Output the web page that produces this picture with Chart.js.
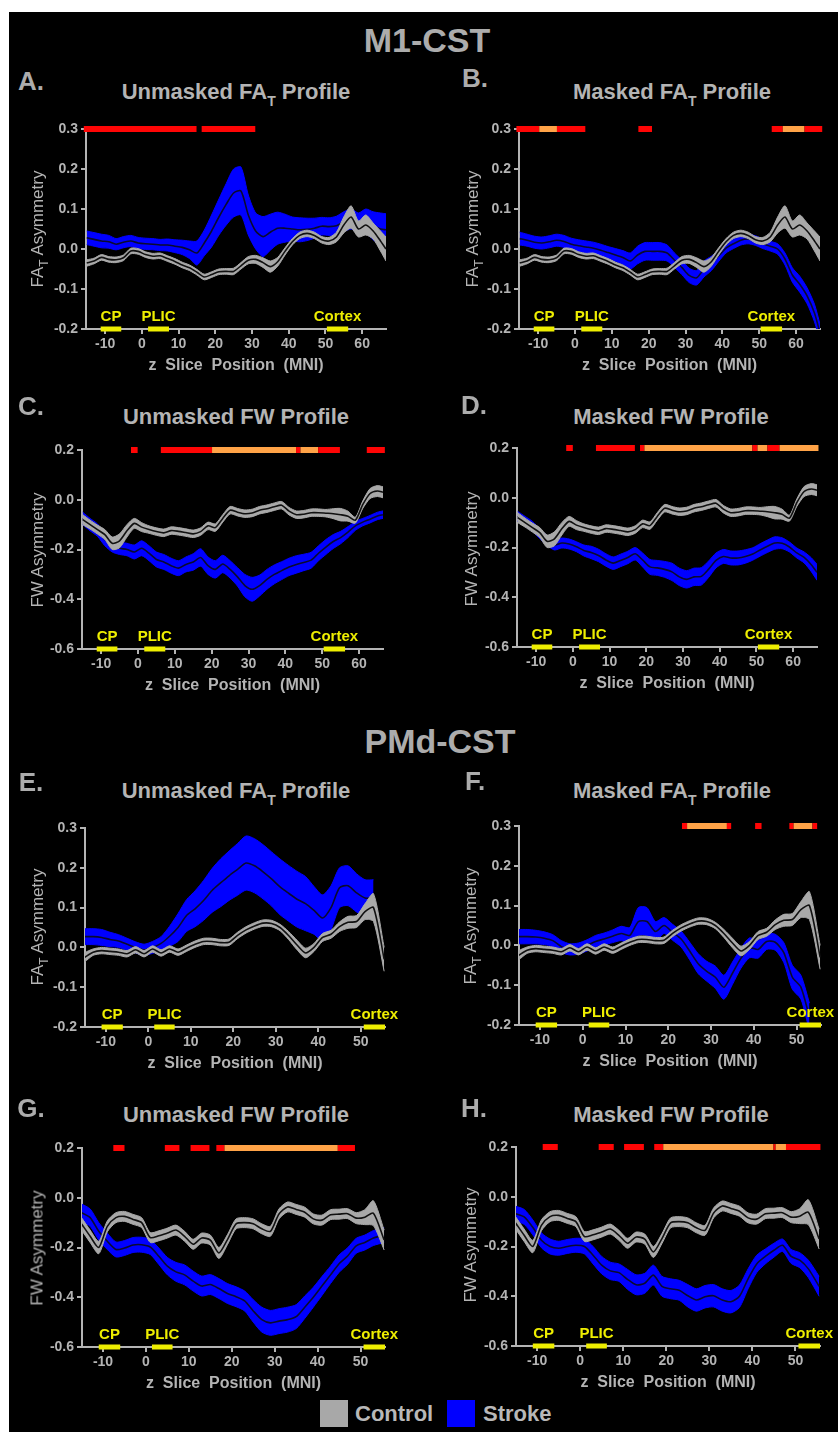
<!DOCTYPE html>
<html>
<head>
<meta charset="utf-8">
<script src="https://cdn.jsdelivr.net/npm/chart.js@4.4.1/dist/chart.umd.min.js"></script>
<style>
  html, body { margin: 0; padding: 0; background: #fff; }
  #page { position: relative; width: 838px; height: 1432px; overflow: hidden; background: #fff;
          font-family: "Liberation Sans", Arial, sans-serif; }
  #ink { position: absolute; left: 9px; top: 12px; right: 0; bottom: 0; background: #000; }
  .t { position: absolute; transform: translate(-50%, -50%); white-space: nowrap; line-height: 1;
       color: #b4b4b4; font-weight: bold; }
  .tl { position: absolute; transform: translate(0, -50%); white-space: nowrap; line-height: 1;
        color: #b8b8b8; font-weight: bold; }
  .yt { position: absolute; transform: translate(-50%, -50%) rotate(-90deg); white-space: nowrap;
        line-height: 1; color: #b4b4b4; font-size: 17px; }
  .s1 { font-size: 14px; position: relative; top: 7px; }
  .s2 { font-size: 12px; position: relative; top: 5px; }
  canvas { position: absolute; }
  .sw { position: absolute; width: 28px; height: 27px; }
</style>
</head>
<body>
<div id="page"><div id="ink"></div></div>
<script>
// ---------- slice positions and tick labels ----------
const xM1 = [-15,-13,-11,-9,-7,-5,-3,-1,1,3,5,7,9,11,13,15,17,19,21,23,25,27,29,31,33,35,37,39,41,43,45,47,49,51,53,55,57,59,61,63,65,66.5];
const xPMd = [-15,-13,-11,-9,-7,-5,-3,-1,1,3,5,7,9,11,13,15,17,19,21,23,25,27,29,31,33,35,37,39,41,43,45,47,49,51,53,55.5];
const xTicksM1 = [-10,0,10,20,30,40,50,60];
const xTicksPMd = [-10,0,10,20,30,40,50];
const yTicksFA = [-0.2,-0.1,0,0.1,0.2,0.3];
const yTicksFW = [-0.6,-0.4,-0.2,0,0.2];

// ---------- M1-CST: unmasked FA_T ----------
const strokeMeanA = [0.028,0.024,0.020,0.018,0.012,0.017,0.020,0.015,0.013,0.012,
  0.010,0.010,0.007,0.004,-0.002,-0.010,0.015,0.045,0.080,0.112,
  0.140,0.145,0.085,0.045,0.031,0.042,0.052,0.052,0.050,0.048,
  0.049,0.052,0.057,0.056,0.058,0.068,0.075,0.065,0.070,0.058,
  0.050,0.048];
const strokeSemA = [0.017,0.017,0.017,0.016,0.014,0.014,0.014,0.014,0.014,0.014,
  0.014,0.015,0.016,0.018,0.022,0.030,0.032,0.040,0.045,0.052,
  0.060,0.060,0.050,0.045,0.050,0.045,0.040,0.035,0.030,0.030,
  0.028,0.025,0.022,0.022,0.024,0.025,0.025,0.025,0.030,0.035,
  0.040,0.040];
const controlMeanA = [-0.035,-0.030,-0.021,-0.026,-0.027,-0.022,-0.005,-0.006,-0.014,-0.018,
  -0.017,-0.024,-0.031,-0.040,-0.047,-0.058,-0.070,-0.064,-0.057,-0.056,
  -0.056,-0.042,-0.028,-0.026,-0.034,-0.044,-0.032,-0.006,0.018,0.034,
  0.039,0.034,0.023,0.020,0.030,0.060,0.080,0.050,0.060,0.045,
  0.020,0.000];
const controlSemA = [0.008,0.007,0.007,0.007,0.007,0.007,0.007,0.007,0.007,0.007,
  0.007,0.007,0.007,0.007,0.007,0.007,0.007,0.007,0.007,0.007,
  0.008,0.008,0.009,0.010,0.012,0.014,0.011,0.009,0.008,0.008,
  0.008,0.008,0.008,0.009,0.012,0.020,0.028,0.020,0.025,0.020,
  0.025,0.030];

// ---------- M1-CST: masked FA_T ----------
const strokeMeanB = [0.026,0.022,0.017,0.015,0.018,0.022,0.019,0.012,0.008,0.005,
  0.002,-0.003,-0.009,-0.015,-0.021,-0.030,-0.015,-0.006,-0.006,-0.006,
  -0.010,-0.028,-0.046,-0.066,-0.072,-0.050,-0.036,-0.017,0.002,0.013,
  0.022,0.025,0.021,0.013,0.007,0.000,-0.025,-0.065,-0.088,-0.117,
  -0.160,-0.210];
const strokeSemB = [0.016,0.015,0.015,0.015,0.015,0.015,0.015,0.015,0.015,0.015,
  0.015,0.015,0.015,0.016,0.017,0.020,0.022,0.022,0.022,0.022,
  0.020,0.018,0.018,0.018,0.018,0.020,0.018,0.014,0.012,0.012,
  0.012,0.012,0.012,0.012,0.012,0.013,0.015,0.018,0.020,0.020,
  0.022,0.022];
const controlMeanB = [-0.035,-0.030,-0.021,-0.026,-0.027,-0.022,-0.005,-0.006,-0.014,-0.018,
  -0.017,-0.024,-0.031,-0.040,-0.047,-0.058,-0.070,-0.064,-0.057,-0.056,
  -0.056,-0.042,-0.028,-0.026,-0.034,-0.044,-0.032,-0.006,0.018,0.034,
  0.039,0.034,0.023,0.020,0.030,0.060,0.080,0.050,0.060,0.045,
  0.020,0.000];
const controlSemB = [0.008,0.007,0.007,0.007,0.007,0.007,0.007,0.007,0.007,0.007,
  0.007,0.007,0.007,0.007,0.007,0.007,0.007,0.007,0.007,0.007,
  0.008,0.008,0.009,0.010,0.012,0.014,0.011,0.009,0.008,0.008,
  0.008,0.008,0.008,0.009,0.012,0.020,0.028,0.020,0.025,0.020,
  0.025,0.030];

// ---------- M1-CST: unmasked FW ----------
const strokeMeanC = [-0.075,-0.100,-0.122,-0.160,-0.185,-0.195,-0.200,-0.210,-0.195,-0.215,
  -0.240,-0.250,-0.265,-0.275,-0.260,-0.250,-0.232,-0.265,-0.280,-0.258,
  -0.280,-0.310,-0.345,-0.360,-0.345,-0.320,-0.300,-0.285,-0.270,-0.260,
  -0.252,-0.243,-0.215,-0.190,-0.168,-0.152,-0.130,-0.105,-0.090,-0.078,
  -0.065,-0.060];
const strokeSemC = [0.025,0.025,0.025,0.025,0.025,0.025,0.025,0.028,0.030,0.030,
  0.030,0.030,0.030,0.030,0.030,0.033,0.035,0.035,0.035,0.035,
  0.035,0.037,0.045,0.048,0.042,0.040,0.038,0.036,0.035,0.035,
  0.033,0.032,0.030,0.030,0.028,0.025,0.022,0.018,0.015,0.015,
  0.015,0.015];
const controlMeanC = [-0.080,-0.100,-0.120,-0.140,-0.175,-0.165,-0.125,-0.095,-0.110,-0.120,
  -0.128,-0.133,-0.124,-0.127,-0.132,-0.137,-0.128,-0.105,-0.112,-0.075,
  -0.042,-0.050,-0.056,-0.053,-0.042,-0.036,-0.028,-0.022,-0.046,-0.060,
  -0.058,-0.052,-0.052,-0.054,-0.056,-0.060,-0.066,-0.082,-0.020,0.025,
  0.035,0.030];
const controlSemC = [0.020,0.018,0.018,0.020,0.025,0.028,0.025,0.020,0.018,0.015,
  0.015,0.015,0.015,0.015,0.015,0.015,0.015,0.015,0.015,0.015,
  0.015,0.015,0.015,0.015,0.015,0.015,0.015,0.015,0.015,0.015,
  0.015,0.015,0.015,0.015,0.020,0.025,0.020,0.012,0.015,0.020,
  0.022,0.022];

// ---------- M1-CST: masked FW ----------
const strokeMeanD = [-0.075,-0.095,-0.115,-0.145,-0.172,-0.190,-0.182,-0.186,-0.197,-0.212,
  -0.220,-0.232,-0.250,-0.263,-0.252,-0.240,-0.225,-0.250,-0.278,-0.282,
  -0.288,-0.298,-0.318,-0.328,-0.318,-0.316,-0.287,-0.252,-0.236,-0.242,
  -0.242,-0.236,-0.226,-0.210,-0.195,-0.182,-0.183,-0.198,-0.222,-0.240,
  -0.270,-0.300];
const strokeSemD = [0.020,0.020,0.020,0.020,0.020,0.020,0.020,0.020,0.020,0.022,
  0.025,0.025,0.025,0.025,0.025,0.025,0.025,0.028,0.030,0.030,
  0.032,0.035,0.035,0.035,0.035,0.035,0.033,0.030,0.028,0.028,
  0.028,0.027,0.025,0.025,0.025,0.025,0.022,0.020,0.020,0.022,
  0.028,0.032];
const controlMeanD = [-0.080,-0.100,-0.120,-0.140,-0.175,-0.165,-0.125,-0.095,-0.110,-0.120,
  -0.128,-0.133,-0.124,-0.127,-0.132,-0.137,-0.128,-0.105,-0.112,-0.075,
  -0.042,-0.050,-0.056,-0.053,-0.042,-0.036,-0.028,-0.022,-0.046,-0.060,
  -0.058,-0.052,-0.052,-0.054,-0.056,-0.060,-0.066,-0.082,-0.020,0.025,
  0.035,0.030];
const controlSemD = [0.020,0.018,0.018,0.020,0.025,0.028,0.025,0.020,0.018,0.015,
  0.015,0.015,0.015,0.015,0.015,0.015,0.015,0.015,0.015,0.015,
  0.015,0.015,0.015,0.015,0.015,0.015,0.015,0.015,0.015,0.015,
  0.015,0.015,0.015,0.015,0.020,0.025,0.020,0.012,0.015,0.020,
  0.022,0.022];

// ---------- PMd-CST: unmasked FA_T ----------
const strokeMeanE = [0.027,0.027,0.025,0.020,0.016,0.008,0.000,-0.006,0.000,0.010,
  0.028,0.050,0.080,0.097,0.118,0.143,0.162,0.180,0.196,0.212,
  0.205,0.190,0.172,0.152,0.136,0.121,0.110,0.093,0.074,0.100,
  0.150,0.155,0.137,0.124,0.125,null];
const strokeSemE = [0.020,0.020,0.020,0.018,0.016,0.015,0.014,0.014,0.015,0.017,
  0.025,0.035,0.040,0.045,0.050,0.055,0.060,0.062,0.065,0.068,
  0.068,0.068,0.068,0.070,0.070,0.070,0.068,0.060,0.058,0.055,
  0.050,0.050,0.048,0.046,0.045,null];
const controlMeanE = [-0.025,-0.012,-0.008,-0.010,-0.012,-0.016,-0.006,-0.016,-0.004,-0.014,
  -0.004,-0.012,-0.002,0.008,0.015,0.015,0.012,0.013,0.030,0.044,
  0.054,0.061,0.060,0.050,0.030,0.006,-0.014,0.000,0.025,0.033,
  0.052,0.063,0.065,0.090,0.100,-0.030];
const controlSemE = [0.012,0.008,0.008,0.008,0.008,0.008,0.008,0.008,0.008,0.008,
  0.008,0.008,0.008,0.008,0.008,0.008,0.008,0.008,0.008,0.008,
  0.008,0.008,0.008,0.008,0.010,0.012,0.012,0.010,0.010,0.010,
  0.012,0.015,0.015,0.020,0.035,0.030];

// ---------- PMd-CST: masked FA_T ----------
const strokeMeanF = [0.022,0.022,0.021,0.018,0.012,-0.003,-0.010,-0.008,0.000,0.010,
  0.016,0.023,0.030,0.025,0.060,0.060,0.035,0.050,0.033,0.016,
  -0.014,-0.046,-0.065,-0.080,-0.105,-0.070,-0.032,-0.006,-0.010,0.010,
  0.008,-0.018,-0.080,-0.105,-0.180,null];
const strokeSemF = [0.018,0.018,0.017,0.016,0.015,0.015,0.014,0.014,0.014,0.015,
  0.015,0.016,0.018,0.020,0.035,0.035,0.025,0.020,0.020,0.020,
  0.022,0.025,0.025,0.028,0.030,0.028,0.025,0.025,0.022,0.020,
  0.020,0.025,0.030,0.030,0.035,null];
const controlMeanF = [-0.025,-0.012,-0.008,-0.010,-0.012,-0.016,-0.006,-0.016,-0.004,-0.014,
  -0.004,-0.012,-0.002,0.008,0.015,0.015,0.012,0.013,0.030,0.044,
  0.054,0.061,0.060,0.050,0.030,0.006,-0.014,0.000,0.025,0.033,
  0.052,0.063,0.065,0.090,0.100,-0.030];
const controlSemF = [0.012,0.008,0.008,0.008,0.008,0.008,0.008,0.008,0.008,0.008,
  0.008,0.008,0.008,0.008,0.008,0.008,0.008,0.008,0.008,0.008,
  0.008,0.008,0.008,0.008,0.010,0.012,0.012,0.010,0.010,0.010,
  0.012,0.015,0.015,0.020,0.035,0.030];

// ---------- PMd-CST: unmasked FW ----------
const strokeMeanG = [-0.060,-0.080,-0.135,-0.175,-0.208,-0.202,-0.190,-0.189,-0.198,-0.235,
  -0.275,-0.298,-0.310,-0.335,-0.355,-0.349,-0.365,-0.385,-0.398,-0.415,
  -0.455,-0.490,-0.503,-0.496,-0.490,-0.478,-0.440,-0.400,-0.355,-0.310,
  -0.265,-0.234,-0.193,-0.180,-0.162,-0.150];
const strokeSemG = [0.035,0.035,0.035,0.033,0.030,0.030,0.030,0.030,0.030,0.033,
  0.035,0.038,0.040,0.040,0.040,0.040,0.040,0.040,0.040,0.040,
  0.045,0.050,0.050,0.050,0.050,0.048,0.045,0.040,0.038,0.035,
  0.035,0.033,0.030,0.030,0.030,0.030];
const controlMeanG = [-0.105,-0.155,-0.200,-0.115,-0.080,-0.075,-0.087,-0.100,-0.160,-0.153,
  -0.142,-0.130,-0.155,-0.187,-0.162,-0.170,-0.222,-0.168,-0.105,-0.100,
  -0.105,-0.125,-0.135,-0.065,-0.037,-0.047,-0.058,-0.085,-0.090,-0.068,
  -0.066,-0.064,-0.082,-0.078,-0.062,-0.170];
const controlSemG = [0.025,0.025,0.025,0.022,0.020,0.020,0.020,0.020,0.020,0.020,
  0.020,0.020,0.020,0.020,0.020,0.020,0.022,0.020,0.020,0.020,
  0.020,0.020,0.020,0.020,0.020,0.020,0.020,0.020,0.020,0.020,
  0.020,0.020,0.022,0.030,0.050,0.040];

// ---------- PMd-CST: masked FW ----------
const strokeMeanH = [-0.068,-0.081,-0.123,-0.175,-0.200,-0.207,-0.200,-0.195,-0.200,-0.235,
  -0.275,-0.298,-0.305,-0.332,-0.354,-0.348,-0.315,-0.360,-0.370,-0.376,
  -0.398,-0.415,-0.402,-0.398,-0.415,-0.422,-0.400,-0.330,-0.270,-0.240,
  -0.215,-0.195,-0.240,-0.255,-0.290,-0.360];
const strokeSemH = [0.030,0.030,0.030,0.030,0.030,0.028,0.028,0.028,0.030,0.035,
  0.035,0.035,0.035,0.040,0.040,0.040,0.040,0.040,0.040,0.040,
  0.045,0.045,0.045,0.045,0.045,0.045,0.045,0.040,0.035,0.030,
  0.028,0.025,0.028,0.030,0.035,0.040];
const controlMeanH = [-0.105,-0.155,-0.200,-0.115,-0.080,-0.075,-0.087,-0.100,-0.160,-0.153,
  -0.142,-0.130,-0.155,-0.187,-0.162,-0.170,-0.222,-0.168,-0.105,-0.100,
  -0.105,-0.125,-0.135,-0.065,-0.037,-0.047,-0.058,-0.085,-0.090,-0.068,
  -0.066,-0.064,-0.082,-0.078,-0.062,-0.170];
const controlSemH = [0.025,0.025,0.025,0.022,0.020,0.020,0.020,0.020,0.020,0.020,
  0.020,0.020,0.020,0.020,0.020,0.020,0.022,0.020,0.020,0.020,
  0.020,0.020,0.020,0.020,0.020,0.020,0.020,0.020,0.020,0.020,
  0.020,0.020,0.022,0.030,0.050,0.040];

// ---------- significant slice runs: [from, to, tier] (tier 1 red, tier 2 orange) ----------
const sigA = [[-15.8,14.9,1],[16.3,30.9,1]];
const sigB = [[-15.9,-9.7,1],[-9.7,-4.9,2],[-4.9,2.8,1],[17.2,20.9,1],[53.4,56.4,1],[56.4,62.3,2],[62.3,67.1,1]];
const sigC = [[-1.9,-0.1,1],[6.2,20.1,1],[20.1,42.9,2],[42.9,44.1,1],[44.1,48.9,2],[48.9,54.8,1],[62.1,67.0,1]];
const sigD = [[-1.8,0.0,1],[6.3,16.9,1],[18.3,19.5,1],[19.5,48.9,2],[48.9,50.3,1],[50.3,53.0,2],[53.0,56.3,1],[56.3,66.9,2]];
const sigE = [];
const sigF = [[23.2,24.4,1],[24.4,33.7,2],[33.7,34.7,1],[40.3,41.8,1],[48.3,49.3,1],[49.3,53.7,2],[53.7,54.8,1]];
const sigG = [[-7.6,-5.0,1],[4.4,7.8,1],[10.4,14.8,1],[16.4,18.3,1],[18.3,44.7,2],[44.7,48.7,1]];
const sigH = [[-8.7,-5.2,1],[4.3,7.8,1],[10.2,14.8,1],[17.2,19.3,1],[19.3,44.9,2],[44.9,45.4,1],[45.4,47.8,2],[47.8,55.8,1]];

// ---------- anatomical landmarks along z ----------
const regionNames = ['CP','PLIC','Cortex'];
const regionsM1 = [[-11.2,-5.6],[1.7,7.4],[50.4,56.2]];
const regionsPMd = [[-11.0,-6.0],[1.4,6.2],[50.7,55.7]];

// ---------- styling ----------
const FONT = '"Liberation Sans", Arial, sans-serif';
const AXIS = '#b4b4b4';
const BLUE = '#0000ff';
const BAND_GREY = '#a9a9a9';
const RED = '#ff0505';
const ORANGE = '#ffa347';
const YELLOW = '#eeee00';
Chart.defaults.font.family = FONT;

const page = document.getElementById('page');

function text(cls, html, x, y, size, extra) {
  const d = document.createElement('div');
  d.className = cls;
  d.innerHTML = html;
  d.style.left = x + 'px';
  d.style.top = y + 'px';
  if (size) d.style.fontSize = size + 'px';
  if (extra) Object.assign(d.style, extra);
  page.appendChild(d);
  return d;
}

// significance runs and landmark bars, drawn on the chart's own scales
const marksPlugin = {
  id: 'marks',
  afterDatasetsDraw(chart, args, opts) {
    const { ctx, scales: { x, y } } = chart;
    ctx.save();
    const yTop = y.getPixelForValue(y.max);
    for (const [a, b, tier] of opts.sig) {
      const x0 = x.getPixelForValue(a), x1 = x.getPixelForValue(b);
      ctx.fillStyle = tier === 2 ? ORANGE : RED;
      ctx.fillRect(x0, yTop - 3, x1 - x0, 6);
    }
    const yBot = y.getPixelForValue(y.min);
    ctx.font = 'bold 15px ' + FONT;
    ctx.textAlign = 'center';
    ctx.textBaseline = 'alphabetic';
    opts.regions.forEach(([a, b], i) => {
      const x0 = x.getPixelForValue(a), x1 = x.getPixelForValue(b);
      ctx.fillStyle = YELLOW;
      ctx.fillRect(x0, yBot - 2.5, x1 - x0, 5);
      ctx.fillText(regionNames[i], (x0 + x1) / 2, yBot - 8);
    });
    ctx.restore();
  }
};

const pts = (xs, m, s, k) => xs.map((x, i) => ({
  x, y: (m[i] == null) ? null : m[i] + k * (s ? s[i] : 0)
}));

function panel(p) {
  const YW = 50, PT = 12, PR = 14, XH = 50;
  const W = YW + p.w + PR, H = PT + p.h + XH;
  const cv = document.createElement('canvas');
  cv.width = W; cv.height = H;
  cv.style.width = W + 'px'; cv.style.height = H + 'px';
  cv.style.left = (p.left - YW) + 'px';
  cv.style.top = (p.top - PT) + 'px';
  page.appendChild(cv);

  const common = { pointRadius: 0, tension: 0.25, spanGaps: false };
  const tickFont = { family: FONT, size: 14, weight: 'bold' };

  new Chart(cv, {
    type: 'line',
    data: {
      datasets: [
        { ...common, label: 'Stroke lower', data: pts(p.xs, p.sm, p.ss, -1), borderColor: BLUE, backgroundColor: BLUE, borderWidth: 1, fill: false, order: 6 },
        { ...common, label: 'Stroke upper', data: pts(p.xs, p.sm, p.ss, 1), borderColor: BLUE, backgroundColor: BLUE, borderWidth: 1, fill: '-1', order: 5 },
        { ...common, label: 'Stroke', data: pts(p.xs, p.sm, null, 0), borderColor: '#0a0a30', borderWidth: 1.6, fill: false, order: 4 },
        { ...common, label: 'Control lower', data: pts(p.xs, p.cm, p.cs, -1), borderColor: BAND_GREY, backgroundColor: BAND_GREY, borderWidth: 1, fill: false, order: 3 },
        { ...common, label: 'Control upper', data: pts(p.xs, p.cm, p.cs, 1), borderColor: BAND_GREY, backgroundColor: BAND_GREY, borderWidth: 1, fill: '-1', order: 2 },
        { ...common, label: 'Control', data: pts(p.xs, p.cm, null, 0), borderColor: '#111111', borderWidth: 1.6, fill: false, order: 1 }
      ]
    },
    options: {
      responsive: false,
      animation: false,
      layout: { padding: { top: PT, right: PR, left: 0, bottom: 0 } },
      plugins: {
        legend: { display: false },
        tooltip: { enabled: false },
        marks: { sig: p.sig, regions: p.regions }
      },
      scales: {
        x: {
          type: 'linear', min: p.xmin, max: p.xmax,
          afterBuildTicks: s => { s.ticks = p.xticks.map(v => ({ value: v })); },
          afterFit: s => { s.height = XH; },
          grid: { display: true, drawOnChartArea: false, drawTicks: true, tickLength: 5, color: AXIS, lineWidth: 2 },
          border: { display: true, color: AXIS, width: 2 },
          ticks: { color: AXIS, font: tickFont, padding: 2, maxRotation: 0, autoSkip: false },
          title: { display: true, text: 'z  Slice  Position  (MNI)', color: AXIS,
                   font: { family: FONT, size: 16, weight: 'bold' }, padding: { top: 0, bottom: 4 } }
        },
        y: {
          type: 'linear', min: p.ymin, max: p.ymax,
          afterBuildTicks: s => { s.ticks = p.yticks.map(v => ({ value: v })); },
          afterFit: s => { s.width = YW; },
          grid: { display: true, drawOnChartArea: false, drawTicks: true, tickLength: 5, color: AXIS, lineWidth: 2 },
          border: { display: true, color: AXIS, width: 2 },
          ticks: { color: AXIS, font: tickFont, padding: 3, callback: v => Number(v).toFixed(1) }
        }
      }
    },
    plugins: [marksPlugin]
  });
}

// ---------- panels ----------
const FA = { ymin: -0.2, ymax: 0.3, yticks: yTicksFA };
const FW = { ymin: -0.6, ymax: 0.2, yticks: yTicksFW };
const M1 = { xs: xM1, xmin: -15.2, xmax: 66.5, xticks: xTicksM1, regions: regionsM1 };
const PMd = { xs: xPMd, xmin: -14.9, xmax: 55.7, xticks: xTicksPMd, regions: regionsPMd };

const panels = [
  { ...M1, ...FA, left: 86, top: 129, w: 300, h: 200, sm: strokeMeanA, ss: strokeSemA, cm: controlMeanA, cs: controlSemA, sig: sigA,
    letter: ['A.', 31, 81], title: ['Unmasked FA<span class="s1">T</span> Profile', 236, 92], ytitle: ['FA<span class="s2">T</span> Asymmetry', 37, 229] },
  { ...M1, ...FA, left: 519, top: 129, w: 301, h: 200, sm: strokeMeanB, ss: strokeSemB, cm: controlMeanB, cs: controlSemB, sig: sigB,
    letter: ['B.', 475, 78], title: ['Masked FA<span class="s1">T</span> Profile', 672, 92], ytitle: ['FA<span class="s2">T</span> Asymmetry', 472, 229] },
  { ...M1, ...FW, left: 82, top: 450, w: 301, h: 199, sm: strokeMeanC, ss: strokeSemC, cm: controlMeanC, cs: controlSemC, sig: sigC,
    letter: ['C.', 31, 406], title: ['Unmasked FW Profile', 236, 417], ytitle: ['FW Asymmetry', 37, 550] },
  { ...M1, ...FW, left: 517, top: 448, w: 300, h: 199, sm: strokeMeanD, ss: strokeSemD, cm: controlMeanD, cs: controlSemD, sig: sigD,
    letter: ['D.', 474, 405], title: ['Masked FW Profile', 671, 417], ytitle: ['FW Asymmetry', 471, 549] },
  { ...PMd, ...FA, left: 85, top: 828, w: 300, h: 199, sm: strokeMeanE, ss: strokeSemE, cm: controlMeanE, cs: controlSemE, sig: sigE,
    letter: ['E.', 31, 782], title: ['Unmasked FA<span class="s1">T</span> Profile', 236, 791], ytitle: ['FA<span class="s2">T</span> Asymmetry', 37, 927] },
  { ...PMd, ...FA, left: 519, top: 826, w: 302, h: 199, sm: strokeMeanF, ss: strokeSemF, cm: controlMeanF, cs: controlSemF, sig: sigF,
    letter: ['F.', 475, 781], title: ['Masked FA<span class="s1">T</span> Profile', 672, 791], ytitle: ['FA<span class="s2">T</span> Asymmetry', 470, 926] },
  { ...PMd, ...FW, left: 82, top: 1148, w: 303, h: 199, sm: strokeMeanG, ss: strokeSemG, cm: controlMeanG, cs: controlSemG, sig: sigG,
    letter: ['G.', 31, 1108], title: ['Unmasked FW Profile', 236, 1115], ytitle: ['FW Asymmetry', 37, 1248] },
  { ...PMd, ...FW, left: 516, top: 1147, w: 304, h: 199, sm: strokeMeanH, ss: strokeSemH, cm: controlMeanH, cs: controlSemH, sig: sigH,
    letter: ['H.', 474, 1108], title: ['Masked FW Profile', 671, 1115], ytitle: ['FW Asymmetry', 470, 1245] }
];

text('t', 'M1-CST', 427, 40, 34, { color: '#acacac' });
text('t', 'PMd-CST', 440, 741, 34, { color: '#acacac' });

for (const p of panels) {
  panel(p);
  text('t', p.letter[0], p.letter[1], p.letter[2], 26, { color: '#acacac' });
  text('t', p.title[0], p.title[1], p.title[2], 22);
  text('yt', p.ytitle[0], p.ytitle[1], p.ytitle[2]);
}

// ---------- legend ----------
const sw1 = document.createElement('div'); sw1.className = 'sw';
Object.assign(sw1.style, { left: '320px', top: '1400px', background: '#a8a8a8' });
page.appendChild(sw1);
text('tl', 'Control', 355, 1414, 22);
const sw2 = document.createElement('div'); sw2.className = 'sw';
Object.assign(sw2.style, { left: '447px', top: '1400px', background: BLUE });
page.appendChild(sw2);
text('tl', 'Stroke', 483, 1414, 22);
</script>
</body>
</html>
